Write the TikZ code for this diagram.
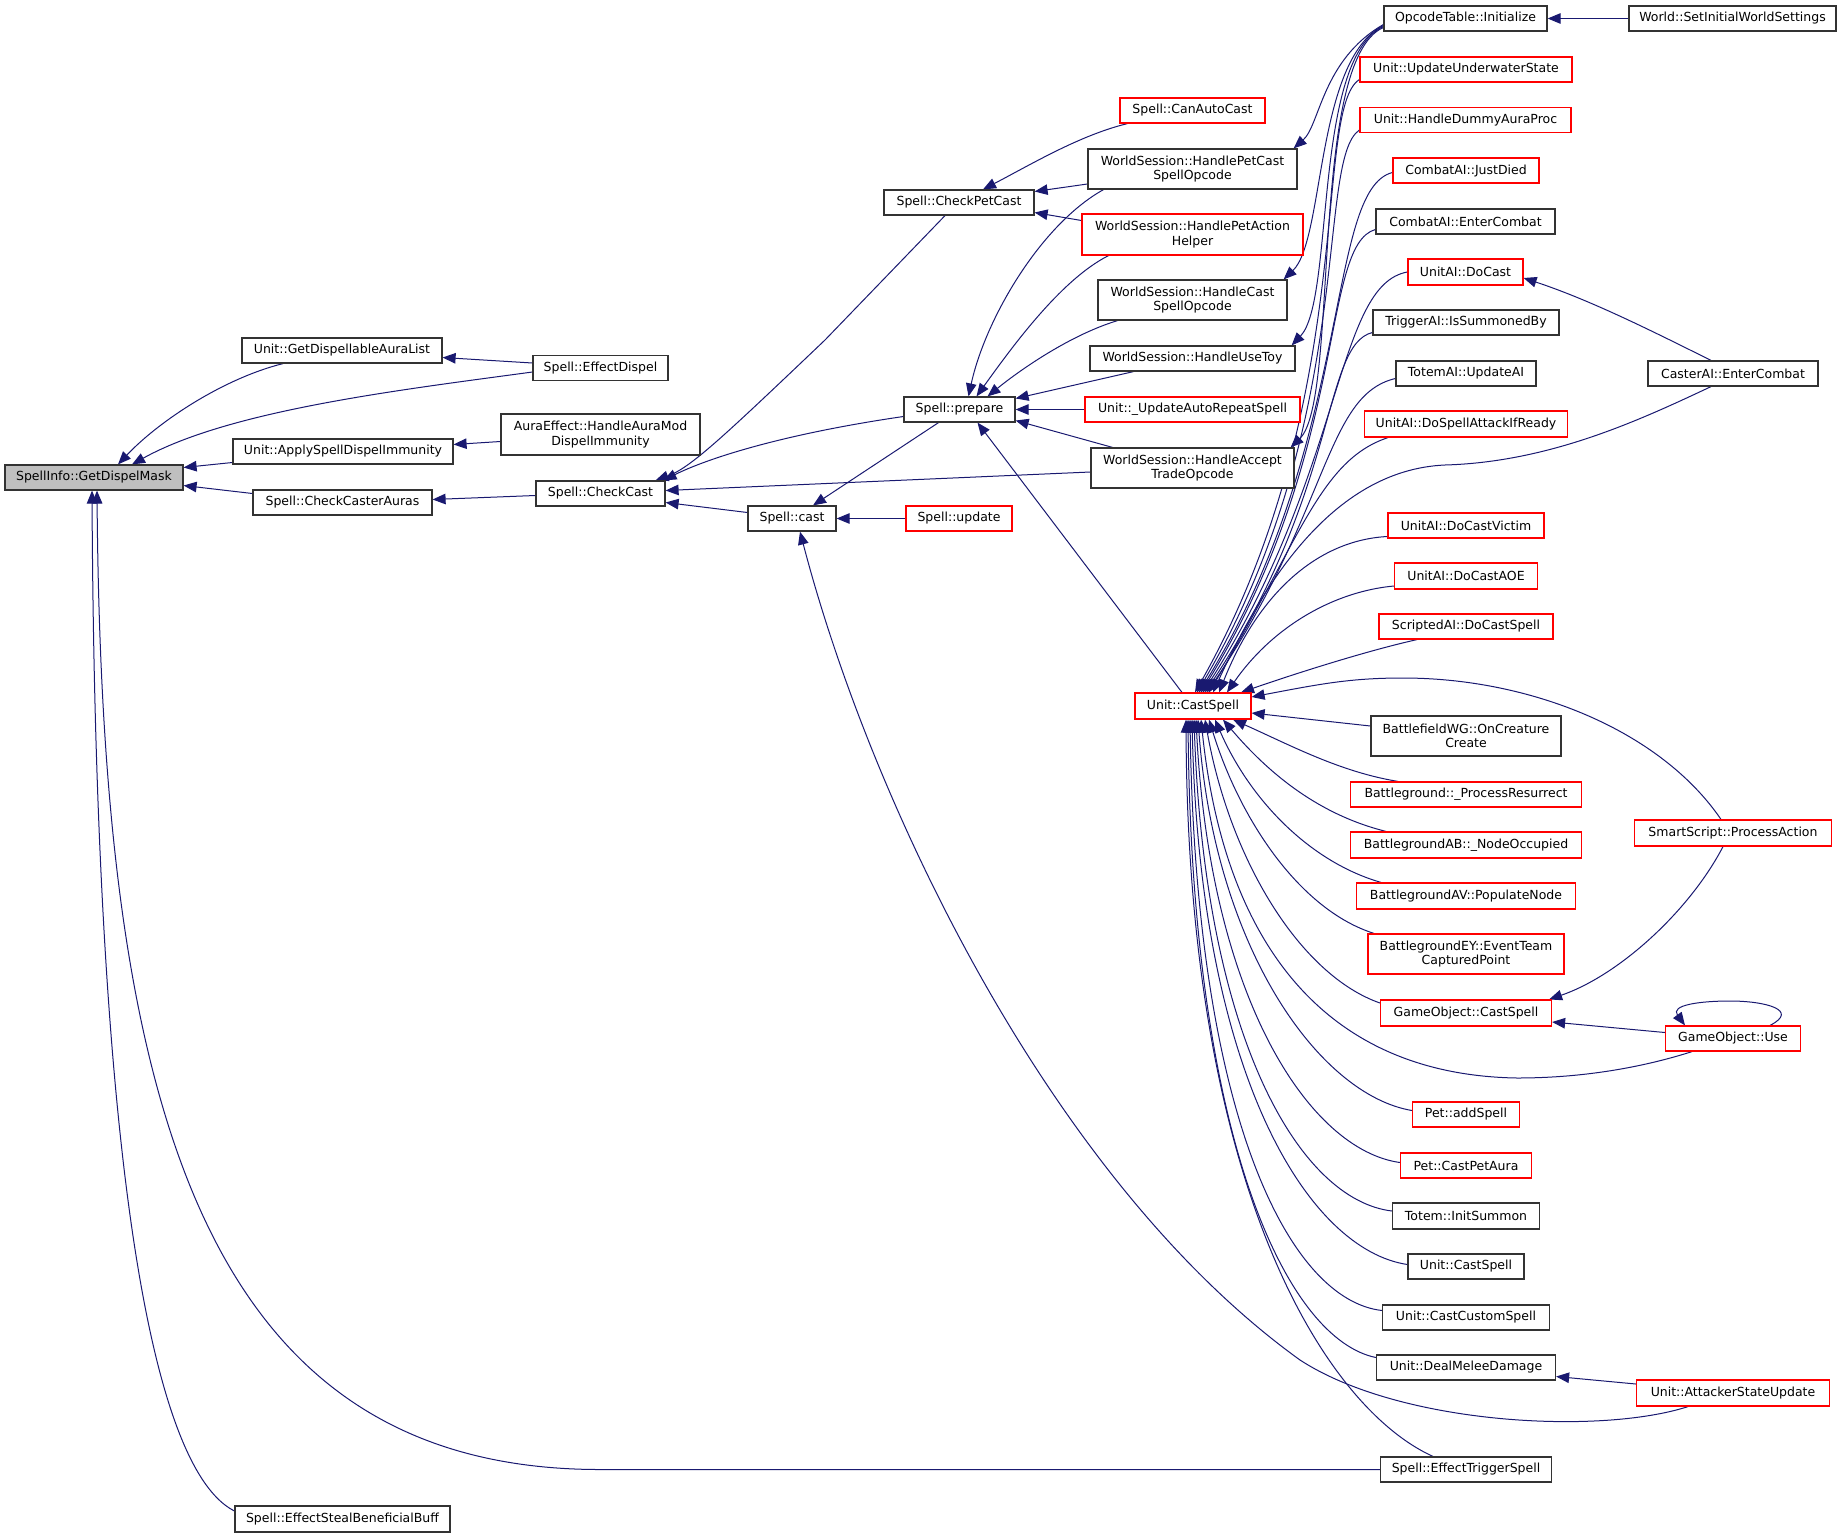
\documentclass[tikz,border=0pt]{standalone}
\usepackage{fontspec}
\setmainfont{DejaVu Sans}
\usetikzlibrary{arrows.meta}
\definecolor{mblue}{HTML}{191970}
\definecolor{bord}{HTML}{333333}
\definecolor{rootfill}{HTML}{BFBFBF}
\pgfdeclarelayer{bg}
\pgfsetlayers{bg,main}
\tikzset{
  bx/.style={draw=bord, line width=1.2pt, fill=white, inner sep=0pt, align=center,
    font=\fontsize{12.5}{14.5}\selectfont, text=black},
  rbx/.style={bx, draw=red},
  e/.style={draw=mblue, line width=1pt, arrows={Triangle[length=13pt,width=10.5pt]-}},
}
\begin{document}
\begin{tikzpicture}[x=1pt,y=-1pt]
\useasboundingbox (0,0) rectangle (1841,1539);
% column 1-4
\node[bx, fill=rootfill, minimum width=178pt, minimum height=25pt] (root) at (94,477.5) {SpellInfo::GetDispelMask};
\node[bx, minimum width=200pt, minimum height=25pt] (gdal) at (342,350.5) {Unit::GetDispellableAuraList};
\node[bx, minimum width=135pt, minimum height=25pt] (ed) at (600.5,368) {Spell::EffectDispel};
\node[bx, minimum width=220pt, minimum height=25pt] (asdi) at (343,451.5) {Unit::ApplySpellDispelImmunity};
\node[bx, minimum width=199pt, minimum height=41pt] (ae) at (600.5,434.5) {AuraEffect::HandleAuraMod\\DispelImmunity};
\node[bx, minimum width=179pt, minimum height=25pt] (cca) at (342.5,502.5) {Spell::CheckCasterAuras};
\node[bx, minimum width=129pt, minimum height=25pt] (cc) at (600.5,493.5) {Spell::CheckCast};
\node[bx, minimum width=215pt, minimum height=26pt] (esbb) at (342.5,1519) {Spell::EffectStealBeneficialBuff};
\node[bx, minimum width=150pt, minimum height=25pt] (cpc) at (959,202.5) {Spell::CheckPetCast};
\node[bx, minimum width=111pt, minimum height=25pt] (prep) at (959.5,409.5) {Spell::prepare};
\node[bx, minimum width=88pt, minimum height=25pt] (cast) at (792,518.5) {Spell::cast};
\node[rbx, minimum width=106pt, minimum height=25pt] (upd) at (959,518.5) {Spell::update};
% column 6
\node[rbx, minimum width=145pt, minimum height=25pt] (cac) at (1192.5,110.5) {Spell::CanAutoCast};
\node[bx, minimum width=209pt, minimum height=40pt] (hpc) at (1192.5,169) {WorldSession::HandlePetCast\\SpellOpcode};
\node[rbx, minimum width=221pt, minimum height=41pt] (hpa) at (1192.5,234.5) {WorldSession::HandlePetAction\\Helper};
\node[bx, minimum width=189pt, minimum height=40pt] (hcs) at (1192.5,300) {WorldSession::HandleCast\\SpellOpcode};
\node[bx, minimum width=205pt, minimum height=25pt] (hut) at (1192.5,358.5) {WorldSession::HandleUseToy};
\node[rbx, minimum width=215pt, minimum height=25pt] (uar) at (1192.5,409.5) {Unit::\_UpdateAutoRepeatSpell};
\node[bx, minimum width=203pt, minimum height=40pt] (hat) at (1192.5,468) {WorldSession::HandleAccept\\TradeOpcode};
\node[rbx, minimum width=116pt, minimum height=26pt] (ucs) at (1193,706) {Unit::CastSpell};
% column 7
\node[bx, minimum width=163pt, minimum height=25pt] (oti) at (1465.5,18.5) {OpcodeTable::Initialize};
\node[rbx, minimum width=212pt, minimum height=25pt] (uus) at (1466,69.5) {Unit::UpdateUnderwaterState};
\node[rbx, minimum width=211pt, minimum height=25pt] (hdap) at (1465.5,120) {Unit::HandleDummyAuraProc};
\node[rbx, minimum width=146pt, minimum height=25pt] (cajd) at (1466,170.5) {CombatAI::JustDied};
\node[bx, minimum width=179pt, minimum height=25pt] (caec) at (1465.5,221.5) {CombatAI::EnterCombat};
\node[rbx, minimum width=115pt, minimum height=26pt] (uadc) at (1465.5,272) {UnitAI::DoCast};
\node[bx, minimum width=186pt, minimum height=25pt] (tais) at (1466,322.5) {TriggerAI::IsSummonedBy};
\node[bx, minimum width=140pt, minimum height=25pt] (tmua) at (1466,373.5) {TotemAI::UpdateAI};
\node[rbx, minimum width=203pt, minimum height=26pt] (dsa) at (1466,424) {UnitAI::DoSpellAttackIfReady};
\node[rbx, minimum width=156pt, minimum height=25pt] (dcv) at (1466,525.5) {UnitAI::DoCastVictim};
\node[rbx, minimum width=143pt, minimum height=26pt] (dcaoe) at (1466,576) {UnitAI::DoCastAOE};
\node[rbx, minimum width=174pt, minimum height=25pt] (sadcs) at (1466,626.5) {ScriptedAI::DoCastSpell};
\node[bx, minimum width=190pt, minimum height=40pt] (bwg) at (1466,736) {BattlefieldWG::OnCreature\\Create};
\node[rbx, minimum width=231pt, minimum height=25pt] (bgpr) at (1466,794.5) {Battleground::\_ProcessResurrect};
\node[rbx, minimum width=231pt, minimum height=26pt] (bgab) at (1466,845) {BattlegroundAB::\_NodeOccupied};
\node[rbx, minimum width=219pt, minimum height=26pt] (bgav) at (1466,896) {BattlegroundAV::PopulateNode};
\node[rbx, minimum width=196pt, minimum height=40pt] (bgey) at (1466,954) {BattlegroundEY::EventTeam\\CapturedPoint};
\node[rbx, minimum width=171pt, minimum height=26pt] (gocs) at (1466,1013) {GameObject::CastSpell};
\node[rbx, minimum width=107pt, minimum height=25pt] (pas) at (1466,1114.5) {Pet::addSpell};
\node[rbx, minimum width=131pt, minimum height=25pt] (pcpa) at (1466,1165.5) {Pet::CastPetAura};
\node[bx, minimum width=147pt, minimum height=26pt] (tis) at (1466,1216) {Totem::InitSummon};
\node[bx, minimum width=116pt, minimum height=25pt] (ucs2) at (1466,1266.5) {Unit::CastSpell};
\node[bx, minimum width=167pt, minimum height=25pt] (uccs) at (1466,1317.5) {Unit::CastCustomSpell};
\node[bx, minimum width=179pt, minimum height=25pt] (udmd) at (1466,1367.5) {Unit::DealMeleeDamage};
\node[bx, minimum width=171pt, minimum height=25pt] (etsp) at (1466,1469.5) {Spell::EffectTriggerSpell};
% column 8
\node[bx, minimum width=207pt, minimum height=25pt] (wsi) at (1732.5,18.5) {World::SetInitialWorldSettings};
\node[bx, minimum width=170pt, minimum height=25pt] (casec) at (1733,373.5) {CasterAI::EnterCombat};
\node[rbx, minimum width=197pt, minimum height=26pt] (ssp) at (1733,833) {SmartScript::ProcessAction};
\node[rbx, minimum width=135pt, minimum height=25pt] (gou) at (1733,1038.5) {GameObject::Use};
\node[rbx, minimum width=193pt, minimum height=26pt] (uasu) at (1733,1393) {Unit::AttackerStateUpdate};

\begin{pgfonlayer}{bg}
% into SpellInfo::GetDispelMask
\draw[e] ([xshift=24pt]root.north) .. controls (160,420) and (225,378) .. ([xshift=-59pt]gdal.south);
\draw[e] ([xshift=38pt]root.north) .. controls (230,410) and (400,390) .. ([yshift=-4pt]ed.west);
\draw[e] ([yshift=10pt]root.east) -- ([yshift=-11pt]asdi.west);
\draw[e] ([yshift=-8pt]root.east) -- ([yshift=9pt]cca.west);
\draw[e] ([xshift=3pt]root.south) .. controls (102,1100) and (200,1469.5) .. (600,1469.5) -- (etsp.west);
\draw[e] ([xshift=-2pt]root.south) .. controls (95,1050) and (135,1460) .. ([yshift=8pt]esbb.west);
% second level
\draw[e] ([yshift=-7pt]gdal.east) -- ([yshift=5pt]ed.west);
\draw[e] ([yshift=7pt]asdi.east) -- ([yshift=-7pt]ae.west);
\draw[e] ([yshift=3pt]cca.east) -- ([yshift=-2pt]cc.west);
% into Spell::CheckCast
\draw[e] ([xshift=55pt]cc.north) .. controls (690,468) and (720,440) .. (825,340) -- ([xshift=-14pt]cpc.south);
\draw[e] ([xshift=63pt]cc.north) .. controls (700,462) and (770,436) .. ([yshift=-7pt]prep.west);
\draw[e] ([yshift=3pt]cc.east) -- ([yshift=-4pt]hat.west);
\draw[e] ([yshift=-9pt]cc.east) -- ([yshift=6pt]cast.west);
% into Spell::cast
\draw[e] ([xshift=21pt]cast.north) -- ([xshift=-21pt]prep.south);
\draw[e] (cast.east) -- (upd.west);
\draw[e] ([xshift=8pt]cast.south) .. controls (870,800) and (1050,1180) .. (1300,1360) .. controls (1400,1425) and (1600,1435) .. ([xshift=-45pt]uasu.south);
% into Spell::CheckPetCast
\draw[e] ([xshift=24pt]cpc.north) .. controls (1030,165) and (1080,135) .. ([xshift=-65pt]cac.south);
\draw[e] ([yshift=11pt]cpc.east) -- ([yshift=-15pt]hpc.west);
\draw[e] ([yshift=-10pt]cpc.east) -- ([yshift=14pt]hpa.west);
% into Spell::prepare
\draw[e] ([xshift=9pt]prep.north) .. controls (985,320) and (1040,225) .. ([xshift=-89pt]hpc.south);
\draw[e] ([xshift=17pt]prep.north) .. controls (1010,350) and (1060,280) .. ([xshift=-84pt]hpa.south);
\draw[e] ([xshift=28pt]prep.north) .. controls (1020,370) and (1070,335) .. ([xshift=-75pt]hcs.south);
\draw[e] ([yshift=11pt]prep.east) -- ([xshift=-59pt]hut.south);
\draw[e] (prep.east) -- (uar.west);
\draw[e] ([yshift=-11pt]prep.east) -- ([xshift=-80pt]hat.north);
\draw[e] ([xshift=18pt]prep.south) -- ([xshift=-11pt]ucs.north);
% OpcodeTable
\draw[e] (oti.east) -- (wsi.west);
\draw[e] ([xshift=-4pt]hpc.north east) .. controls (1320,125) and (1322,60) .. ([yshift=-6pt]oti.west);
\draw[e] ([xshift=-4pt]hcs.north east) .. controls (1325,240) and (1315,60) .. ([yshift=-7pt]oti.west);
\draw[e] ([xshift=-4pt]hut.north east) .. controls (1335,300) and (1312,60) .. ([yshift=-8pt]oti.west);
\draw[e] ([xshift=-4pt]hat.north east) .. controls (1340,400) and (1308,60) .. ([yshift=-9pt]oti.west);
% into Unit::CastSpell, from above
\draw[e] ([xshift=2pt]ucs.north) .. controls (1360,400) and (1312,110) .. ([yshift=-10pt]uus.west);
\draw[e] ([xshift=4pt]ucs.north) .. controls (1358,420) and (1315,160) .. ([yshift=-10pt]hdap.west);
\draw[e] ([xshift=6pt]ucs.north) .. controls (1355,440) and (1325,190) .. ([yshift=-2pt]cajd.west);
\draw[e] ([xshift=8pt]ucs.north) .. controls (1350,450) and (1320,245) .. ([yshift=-8pt]caec.west);
\draw[e] ([xshift=10pt]ucs.north) .. controls (1345,470) and (1335,285) .. (uadc.west);
\draw[e] ([xshift=12pt]ucs.north) .. controls (1340,490) and (1322,345) .. ([yshift=-10pt]tais.west);
\draw[e] ([xshift=14pt]ucs.north) .. controls (1330,510) and (1325,395) .. ([yshift=-5pt]tmua.west);
\draw[e] ([xshift=16pt]ucs.north) .. controls (1300,540) and (1320,460) .. ([xshift=-78pt]dsa.south);
\draw[e] ([xshift=20pt]ucs.north) .. controls (1260,590) and (1330,470) .. (1445,465) .. controls (1550,462) and (1640,420) .. ([xshift=-22pt]casec.south);
\draw[e] ([xshift=26pt]ucs.north) .. controls (1260,590) and (1320,540) .. ([yshift=-11pt]dcv.west);
\draw[e] ([xshift=34pt]ucs.north) .. controls (1270,630) and (1330,592) .. ([yshift=-10pt]dcaoe.west);
\draw[e] ([xshift=48pt]ucs.north) .. controls (1300,672) and (1370,650) .. ([xshift=-49pt]sadcs.south);
\draw[e] ([yshift=9pt]ucs.east) .. controls (1320,684) and (1350,678) .. (1403,678) .. controls (1530,678) and (1660,730) .. ([xshift=-12pt]ssp.north);
\draw[e] ([yshift=-7pt]ucs.east) -- ([yshift=10pt]bwg.west);
% into Unit::CastSpell, from below
\draw[e] ([xshift=40pt]ucs.south) .. controls (1290,745) and (1340,772) .. ([xshift=-68pt]bgpr.north);
\draw[e] ([xshift=30pt]ucs.south) .. controls (1270,775) and (1320,815) .. ([xshift=-80pt]bgab.north);
\draw[e] ([xshift=22pt]ucs.south) .. controls (1250,800) and (1310,862) .. ([xshift=-85pt]bgav.north);
\draw[e] ([xshift=16pt]ucs.south) .. controls (1240,820) and (1300,910) .. ([xshift=-92pt]bgey.north);
\draw[e] ([xshift=12pt]ucs.south) .. controls (1230,860) and (1300,975) .. ([yshift=10pt]gocs.west);
\draw[e] ([xshift=8pt]ucs.south) .. controls (1225,950) and (1330,1075) .. (1517,1078) .. controls (1590,1078) and (1650,1065) .. ([xshift=-41pt]gou.south);
\draw[e] ([xshift=5pt]ucs.south) .. controls (1215,950) and (1320,1095) .. ([yshift=4pt]pas.west);
\draw[e] ([xshift=3pt]ucs.south) .. controls (1210,1000) and (1310,1150) .. ([yshift=3pt]pcpa.west);
\draw[e] ([xshift=1pt]ucs.south) .. controls (1205,1040) and (1300,1200) .. ([yshift=5pt]tis.west);
\draw[e] ([xshift=-1pt]ucs.south) .. controls (1200,1080) and (1310,1250) .. ([yshift=2pt]ucs2.west);
\draw[e] ([xshift=-3pt]ucs.south) .. controls (1196,1120) and (1290,1300) .. ([yshift=7pt]uccs.west);
\draw[e] ([xshift=-5pt]ucs.south) .. controls (1192,1150) and (1290,1340) .. ([yshift=10pt]udmd.west);
\draw[e] ([xshift=-7pt]ucs.south) .. controls (1188,1200) and (1330,1410) .. ([xshift=-33pt]etsp.north);
% right side
\draw[e] ([yshift=-6pt]uadc.east) .. controls (1590,300) and (1650,330) .. ([xshift=-22pt]casec.north);
\draw[e] ([xshift=-3pt]gocs.north east) .. controls (1620,975) and (1690,910) .. ([xshift=-10pt]ssp.south);
\draw[e] ([yshift=-9pt]gocs.east) -- ([yshift=6pt]gou.west);
\draw[e] ([xshift=-48pt]gou.north) .. controls (1670,1005) and (1700,1001) .. (1730,1001) .. controls (1765,1001) and (1800,1010) .. ([xshift=37pt]gou.north);
\draw[e] ([yshift=-9pt]udmd.east) -- ([yshift=9pt]uasu.west);
\end{pgfonlayer}
\end{tikzpicture}
\end{document}
